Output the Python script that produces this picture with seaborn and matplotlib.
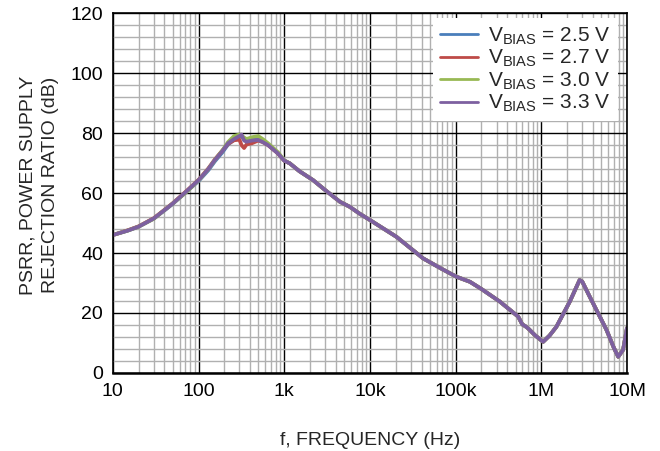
import numpy as np
import pandas as pd
import seaborn as sns
import matplotlib.pyplot as plt
from matplotlib.ticker import FixedLocator, NullFormatter, MultipleLocator

freq = [10, 15, 20, 30, 40, 50, 70, 100, 130, 155, 190, 221, 260, 300, 317,
        340, 363, 420, 496, 560, 646, 845, 1000, 1160, 1500, 2170, 3000, 4460,
        5820, 7500, 10000, 20400, 41800, 70000, 102000, 147000, 200000, 328000,
        537000, 600000, 650000, 700000, 850000, 1050000, 1250000, 1500000,
        2150000, 2800000, 3000000, 3680000, 5780000, 7000000, 7900000,
        9000000, 10000000]

psrr_25 = [46, 47.5, 48.8, 51.5, 54.2, 56.4, 60.1, 64.0, 67.6, 70.6, 73.6, 76.2,
           77.8, 79.0, 78.8, 78.0, 77.6, 78.2, 77.9, 77.2, 76.1, 73.3, 70.8, 69.9,
           67.3, 64.3, 61.0, 57.1, 55.4, 53.2, 51.0, 45.4, 38.2, 34.6, 32.1, 30.4,
           28.0, 23.8, 18.8, 16.2, 15.6, 14.9, 12.5, 10.4, 12.5, 15.4, 23.8, 31.0,
           30.5, 25.4, 14.3, 8.5, 5.4, 7.7, 15.0]

psrr_27 = [46, 47.6, 48.9, 51.6, 54.4, 56.6, 60.3, 64.4, 68.2, 71.2, 74.2, 76.4,
           77.6, 77.8, 76.0, 75.0, 76.2, 76.6, 77.5, 77.0, 76.0, 73.2, 70.8, 69.9,
           67.3, 64.3, 61.0, 57.1, 55.4, 53.2, 51.0, 45.4, 38.2, 34.6, 32.1, 30.4,
           28.0, 23.8, 18.8, 16.2, 15.6, 14.9, 12.5, 10.4, 12.5, 15.4, 23.8, 31.0,
           30.5, 25.4, 14.3, 8.5, 5.4, 7.7, 15.0]

psrr_30 = [46, 47.5, 48.8, 51.4, 54.3, 56.5, 60.0, 64.2, 68.0, 71.0, 74.2, 77.0,
           79.0, 79.5, 79.2, 78.5, 78.0, 78.6, 79.0, 78.0, 76.6, 73.6, 70.9, 69.9,
           67.3, 64.3, 61.0, 57.1, 55.4, 53.2, 51.0, 45.4, 38.2, 34.6, 32.1, 30.4,
           28.0, 23.8, 18.8, 16.2, 15.6, 14.9, 12.5, 10.4, 12.5, 15.4, 23.8, 31.0,
           30.5, 25.4, 14.3, 8.5, 5.4, 7.7, 15.0]

psrr_33 = [46, 47.5, 48.8, 51.5, 54.3, 56.5, 60.2, 64.3, 68.0, 71.0, 74.0, 76.6,
           78.0, 79.0, 79.5, 77.5, 77.1, 77.5, 77.7, 77.0, 76.0, 73.2, 70.8, 69.9,
           67.3, 64.3, 61.0, 57.1, 55.4, 53.2, 51.0, 45.4, 38.2, 34.6, 32.1, 30.4,
           28.0, 23.8, 18.8, 16.2, 15.6, 14.9, 12.5, 10.4, 12.5, 15.4, 23.8, 31.0,
           30.5, 25.4, 14.3, 8.5, 5.4, 7.7, 15.0]

labels = ['$\\mathregular{V_{BIAS}}$ = 2.5 V', '$\\mathregular{V_{BIAS}}$ = 2.7 V',
          '$\\mathregular{V_{BIAS}}$ = 3.0 V', '$\\mathregular{V_{BIAS}}$ = 3.3 V']
colors = ['#4a7ebb', '#be4b48', '#98b954', '#7d60a0']
xtick_labels = ['10', '100', '1k', '10k', '100k', '1M', '10M']

frames = []
for lab, vals in zip(labels, [psrr_25, psrr_27, psrr_30, psrr_33]):
    frames.append(pd.DataFrame({'f': freq, 'psrr': vals, 'bias': lab}))
df = pd.concat(frames, ignore_index=True)

sns.set_style('white')
plt.rcParams['font.family'] = ['Liberation Sans', 'DejaVu Sans']
plt.rcParams['mathtext.fontset'] = 'custom'
plt.rcParams['mathtext.rm'] = 'Liberation Sans'

fs = 14

fig, ax = plt.subplots(figsize=(6.6, 4.51), dpi=100)
fig.subplots_adjust(left=0.171, right=0.950, top=0.971, bottom=0.173)

sns.lineplot(data=df, x='f', y='psrr', hue='bias', palette=colors,
             estimator=None, linewidth=2.7, ax=ax)

ax.set_xscale('log')
ax.set_xlim(10, 1e7)
ax.set_ylim(0, 120)

ax.xaxis.set_major_locator(FixedLocator([10 ** k for k in range(1, 8)]))
ax.xaxis.set_minor_locator(FixedLocator([m * 10 ** k for k in range(1, 7) for m in range(2, 10)]))
ax.xaxis.set_minor_formatter(NullFormatter())
ax.set_xticklabels(xtick_labels)
ax.yaxis.set_major_locator(MultipleLocator(20))
ax.yaxis.set_minor_locator(MultipleLocator(4))

ax.grid(which='minor', color='#b0b0b0', linewidth=1.0)
ax.grid(which='major', color='#000000', linewidth=1.0)
ax.set_axisbelow(True)

ax.tick_params(which='both', length=0, labelsize=fs, colors='#000000', pad=7)
for s in ax.spines.values():
    s.set_color('#000000')
    s.set_linewidth(1.2)
ax.spines['bottom'].set_linewidth(1.8)

ax.set_xlabel('f, FREQUENCY (Hz)', fontsize=fs, labelpad=23)
ax.set_ylabel('PSRR, POWER SUPPLY\nREJECTION RATIO (dB)', fontsize=fs, labelpad=8,
              linespacing=1.45)
ax.yaxis.label.set_y(0.522)

leg = ax.legend(loc='upper right', bbox_to_anchor=(0.9825, 0.985), fontsize=15,
                frameon=True, fancybox=False, framealpha=1, edgecolor='white',
                borderaxespad=0, handlelength=1.8, handletextpad=0.5,
                labelspacing=0.05, borderpad=0.35)
leg.get_frame().set_linewidth(0)
for line in leg.get_lines():
    line.set_linewidth(2)

plt.savefig('out.png', dpi=100)
